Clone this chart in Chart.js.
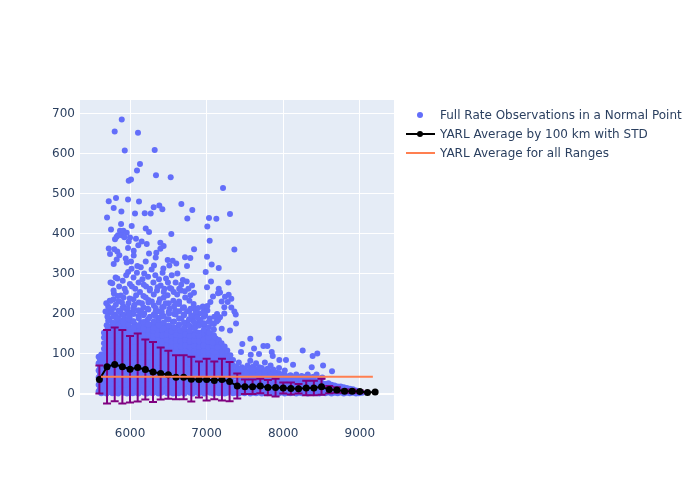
<!DOCTYPE html>
<html>
<head>
<meta charset="utf-8">
<title>YARL by range</title>
<script src="https://cdn.jsdelivr.net/npm/chart.js@4/dist/chart.umd.min.js"></script>
<style>
  body { margin: 0; background: #fff; }
  canvas { display: block; }
</style>
</head>
<body>
<canvas id="cntChart" width="700" height="500"></canvas>
<script>
// points read one by one from the upper part of the cloud
const sparseRanges = [5892,5800,6104,5931,6322,6130,6091,6339,6531,5983,6013,7214,5722,5817,5974,6117,6670,5787,5887,6309,6382,6422,6813,6065,6192,6270,5700,6748,7031,7127,7305,5883,6022,7009,5752,6205,6248,5869,5913,5957,5843,5892,5804,5926,5826,6539,6000,6078,6152,6108,6218,5983,5974,6396,6439,6396,7040,6836,7362,5722,5795,5834,5739,5860,6048,6048,6248,6343,6335,7005,6718,6787,5944,5826,5957,6013,5787,6492,6557,6604,7066,6744,6513,7158,6988,6095,6205,6313,6435,7057,7283,7005,7158,7175,7149,7083,7288,7240,7322,7275,7197,7049,7009,7231,7322,7362,7380,7231,7136,7175,7149,7384,7197,7305,7570,7941,7466,7619,7741,7793,8254,8445,8384,7850,7863,7449,7576,7684,7949,8036,8128,8372,8520,8637];
const sparseRates = [685,655,652,608,609,574,558,546,541,532,535,514,481,489,485,480,474,464,455,466,470,461,459,450,451,450,440,438,439,437,449,424,419,418,410,413,404,407,407,402,396,396,386,391,392,399,390,387,380,371,374,380,364,377,369,362,382,361,360,363,361,355,349,346,357,345,350,352,340,342,341,339,338,335,328,330,324,334,332,325,323,319,320,314,304,319,330,320,313,280,278,266,262,253,251,243,247,242,237,229,230,229,219,216,215,205,198,200,199,191,184,175,162,158,137,138,124,113,119,119,108,100,94,104,94,104,97,99,84,84,72,66,70,56];

// scattered part between the solid body and the sparse top
const midRanges = [5690,5722,5745,5768,5790,5812,5835,5858,5880,5905,5930,5950,5975,5998,6020,6045,6068,6090,6112,6140,6162,6185,6210,6235,6258,6282,6305,6330,6352,6378,6400,6425,6448,6470,6495,6520,6545,6570,6595,6618,6642,6668,6690,6715,6740,6762,6788,6810,6835,5705,5735,5760,5785,5815,5840,5865,5895,5920,5945,5970,5995,6025,6050,6080,6105,6130,6155,6180,6205,6230,6260,6285,6310,6335,6360,6390,6415,6440,6465,6490,6515,6540,6565,6590,6615,6640,6665,6690,6720,6745,6775,6800,6830,6860,6890,6920,6950,6980,7010,7040,7070,7100,7130,5680,5750,5825,5900,5985,6060,6150,6240,6330,6420,6510,6600,6700,6790,6880,6970];
const midRates = [226,212,278,276,250,290,288,268,245,282,262,296,304,274,312,290,262,302,278,316,286,300,268,292,258,310,278,296,258,286,270,302,262,288,278,264,296,254,278,300,262,272,284,256,280,262,246,270,252,192,232,204,258,222,244,206,228,196,254,214,238,268,218,246,208,254,226,272,240,212,262,230,248,214,266,236,204,254,226,246,212,262,232,208,248,224,258,214,240,206,232,196,224,204,214,184,218,196,208,188,176,192,180,205,232,188,214,196,222,204,228,194,216,200,224,198,212,190,200];

// solid body of the cloud, column by column
const bodyRanges = [5590,5625,5660,5695,5730,5770,5805,5845,5880,5920,5960,5995,6035,6070,6110,6145,6185,6220,6260,6295,6335,6370,6410,6445,6485,6520,6560,6595,6635,6670,6710,6745,6785,6820,6860,6895,6935,6970,7010,7045,7085,7120,7160,7195,7235,7270,7310,7345];
const bodyRates = [
  [6,22,40,58,76,92],
  [1,14,27,41,55,69,84,98],
  [3,17,30,44,58,71,85,99,112,126,140,152],
  [0,13,26,40,53,67,80,94,108,121,135,149,171],
  [4,18,31,45,59,72,86,100,113,127,141,155,168,187],
  [1,14,28,41,55,69,82,96,110,124,137,151,178],
  [3,17,30,44,58,72,85,99,113,127,140,154,168,197],
  [0,13,27,40,54,68,81,95,109,123,136,150,164,183],
  [5,18,32,45,59,73,87,100,114,128,142,155,169,176,201],
  [2,15,29,43,56,70,84,97,111,125,139,153,166,186],
  [0,14,27,41,55,68,82,96,110,123,137,151,165,175,209],
  [4,17,31,45,58,72,86,99,113,127,141,154,190],
  [1,15,28,42,56,70,83,97,111,124,138,152,166,180,203],
  [3,16,30,44,57,71,85,98,112,126,140,154,172],
  [0,13,27,41,54,68,82,96,109,123,137,151,164,194],
  [5,18,32,46,59,73,87,100,114,128,142,156,177],
  [2,16,29,43,57,70,84,98,112,125,139,153,167,200],
  [0,14,28,41,55,69,82,96,110,124,137,151,182],
  [3,17,30,44,58,71,85,99,113,126,140,154,168,192],
  [1,15,28,42,56,69,83,97,111,124,138,152,174],
  [4,18,31,45,59,72,86,100,114,127,141,155,169,205],
  [0,13,27,41,54,68,82,95,109,123,137,150,181],
  [2,16,29,43,57,70,84,98,111,125,139,153,166,193],
  [5,18,32,45,59,73,86,100,114,128,141,155,172],
  [1,14,28,42,55,69,83,96,110,124,138,151,186],
  [3,17,30,44,58,71,85,99,112,126,140,154,167],
  [0,14,27,41,55,68,82,96,109,123,137,151,179],
  [4,17,31,45,58,72,86,99,113,127,141,154,198],
  [1,15,29,42,56,70,83,97,111,124,138,152,170],
  [3,16,30,44,57,71,85,98,112,126,140,153,188],
  [0,14,28,41,55,69,82,96,110,123,137,151,165],
  [5,18,32,46,59,73,87,100,114,128,142,155,177],
  [2,15,29,43,56,70,84,97,111,125,139,152,168],
  [0,13,27,41,54,68,82,95,109,123,137,150,183],
  [4,17,31,45,58,72,86,99,113,127,141,154,168],
  [1,15,28,42,56,69,83,97,110,124,138,152,175],
  [3,17,30,44,58,71,85,99,112,126,140,153],
  [0,14,27,41,55,68,82,96,109,123,137,150,172],
  [5,18,32,45,59,73,86,100,114,127,141,155],
  [2,15,29,43,56,70,84,97,111,125,138,150],
  [0,13,27,41,54,68,81,95,109,122,136,146],
  [3,17,31,44,58,72,85,99,113,126,138],
  [1,15,28,42,56,69,83,97,110,124,134],
  [4,18,31,45,59,72,86,100,113,126],
  [0,14,27,41,55,68,82,96,109,118],
  [2,16,30,43,57,71,84,98,108],
  [5,18,32,46,59,73,86,96],
  [1,15,28,42,56,70,84]
];

// second pass over the body, closes the gaps between columns
const bodyFillRanges = [5607,5640,5700,5760,5820,5880,5940,6000,6060,6120,6180,6240,6300,6360,6420,6480,6540,6600,6660,6720,6780,6840,6900,6960,7020,7080,7140,7200,7260,7320];
const bodyFillRates = [
  [13,31,49,67,85],
  [9,24,37,50,63,77,91],
  [8,21,35,48,62,76,89,103,117,130,144,158],
  [11,24,38,51,65,79,92,106,120,134,147,161],
  [7,21,34,48,62,75,89,103,116,130,144,158,172],
  [10,24,37,51,65,78,92,106,120,133,147,161],
  [8,22,35,49,63,76,90,104,118,131,145,159,173],
  [11,25,38,52,66,79,93,107,120,134,148,162],
  [7,20,34,48,61,75,89,102,116,130,144,157,171],
  [10,23,37,51,64,78,92,105,119,133,147,160],
  [8,21,35,49,62,76,90,104,117,131,145,159,172],
  [11,24,38,52,65,79,93,106,120,134,148,161],
  [7,20,34,48,61,75,89,103,116,130,144,158,170],
  [10,23,37,51,64,78,92,105,119,133,147,160],
  [8,22,35,49,63,76,90,104,118,131,145,159,173],
  [11,24,38,52,65,79,93,107,120,134,148,160],
  [7,21,34,48,62,75,89,103,117,130,144,156],
  [10,23,37,51,64,78,92,106,119,133,147,160],
  [8,22,35,49,63,76,90,104,118,131,145,158],
  [11,25,38,52,66,79,93,107,120,134,148],
  [7,20,34,48,61,75,89,102,116,130,144,157],
  [10,23,37,51,64,78,92,105,119,133,146],
  [8,21,35,49,62,76,90,103,117,131,144],
  [11,24,38,52,65,79,93,106,120,134],
  [7,21,34,48,62,75,89,103,116,130,141],
  [10,24,37,51,65,78,92,106,119,128],
  [8,22,35,49,63,76,90,104,116],
  [11,25,38,52,66,79,93,104],
  [7,20,34,48,61,75,89],
  [10,23,37,51,64,76]
];

// band just above the solid body, patchy in the reference
const upperRanges = [5715,5785,5850,5915,5980,6045,6115,6175,6240,6310,6375,6440,6505,6575,6640,6705,6770,6840,6905,6965,7030,7095];
const upperRates = [
  [165,182,200,218],
  [163,176,193,214,236],
  [170,189,207,231],
  [161,178,197,218,240],
  [172,186,204,226],
  [165,181,199,212,236],
  [170,188,208,228],
  [162,179,196,216,244],
  [173,187,210,234],
  [164,180,198,220],
  [171,189,206,228],
  [163,178,194,217,240],
  [170,186,204,226],
  [165,180,199,218],
  [173,188,206,230],
  [163,178,196,216],
  [171,186,205],
  [164,178,194,212],
  [170,184,200],
  [160,176,192,208],
  [152,166,180],
  [146,160,174]
];

// tail to the right, low rates only
const tailRanges = [7385,7420,7460,7495,7535,7570,7610,7645,7685,7720,7760,7795,7835,7870,7910,7945,7985,8020,8060,8095,8135,8170,8210,8245,8285,8320,8360,8395,8435,8470,8510,8550,8590,8630,8670,8710,8750,8790,8830,8870,8910,8950,8990,9030];
const tailRates = [
  [2,15,28,42,55,68],
  [0,13,26,39,52,62,78],
  [3,16,29,42,55,66],
  [1,14,27,40,52,62],
  [4,17,30,43,56,70],
  [0,13,26,39,52,64,82],
  [2,15,28,41,54,68],
  [1,14,27,40,52,60,76],
  [3,16,29,42,55,66],
  [0,13,26,39,50,64],
  [2,15,28,41,54,78],
  [1,14,27,40,52,62],
  [3,16,29,42,55,70],
  [0,13,26,39,50,60],
  [2,15,28,41,52],
  [1,14,27,40,50,64],
  [3,16,29,42,48],
  [0,13,26,38,46,58],
  [2,15,28,40],
  [1,14,27,38,46],
  [3,16,29,41],
  [0,13,26,38,48],
  [2,15,28,39],
  [1,14,27,40],
  [3,16,29,42],
  [0,13,26,38,48],
  [2,15,28,40],
  [1,14,27,42],
  [3,16,29,48],
  [0,13,26,38],
  [2,14,26,40],
  [1,12,24],
  [3,14,26],
  [0,10,22],
  [2,12,20],
  [1,10,18],
  [3,12,18],
  [0,8,16],
  [2,10,14],
  [1,7,12],
  [2,8,11],
  [0,5,8],
  [1,4],
  [2]
];
const tailFillRanges = [7440,7520,7600,7680,7760,7840,7920,8000,8080,8160,8240,8320,8400,8480];
const tailFillRates = [
  [8,22,35,48,60],
  [9,23,36,49],
  [8,21,34,47,58],
  [9,22,35,48],
  [7,20,34,46,58],
  [9,22,35,47],
  [8,21,34,45],
  [9,22,33,42],
  [8,21,33,44],
  [7,20,33],
  [9,22,34,44],
  [8,20,33],
  [7,21,34],
  [8,20,32]
];

// averages by 100 km and their std
const binRanges = [5600,5700,5800,5900,6000,6100,6200,6300,6400,6500,6600,6700,6800,6900,7000,7100,7200,7300,7400,7500,7600,7700,7800,7900,8000,8100,8200,8300,8400,8500,8600,8700,8800,8900,9000,9100,9200];
const binMeans = [35,67,73,67,61,65,60,54,50,47,41,41,36,35,35,33,35,30,19,17,17,19,15,15,14,13,12,14,14,17,10,9,6,6,5,3,4];
const binStds = [35,92,92,92,83,85,75,75,65,60,55,55,56,45,52,47,52,49,31,18,18,18,19,22,14,15,12,18,18,20,9,7,4,4,3,0,0];

const allRangesX = [5620,9170];
const allRangesAvg = [42,42];

const xTicks = [6000,7000,8000,9000];
const yTicks = [0,100,200,300,400,500,600,700];

const legendLabels = ['Full Rate Observations in a Normal Point','YARL Average by 100 km with STD','YARL Average for all Ranges'];

const colDots = '#636EFA', colMean = '#000000', colStd = '#800080', colAvg = '#FF7F50', colText = '#2a3f5f';
const fontPlot = '12px "DejaVu Sans"';

function buildCloud(){
  const pts = [];
  const addColumns = (xs, rows) => xs.forEach((x, i) => rows[i].forEach(y => pts.push({x: x, y: y})));
  addColumns(bodyRanges, bodyRates);
  addColumns(bodyFillRanges, bodyFillRates);
  addColumns(upperRanges, upperRates);
  addColumns(tailRanges, tailRates);
  addColumns(tailFillRanges, tailFillRates);
  midRanges.forEach((x, i) => pts.push({x: x, y: midRates[i]}));
  sparseRanges.forEach((x, i) => pts.push({x: x, y: sparseRates[i]}));
  return pts;
}

const plotBackground = {
  id: 'plotBackground',
  beforeDraw(chart){
    const a = chart.chartArea, c = chart.ctx;
    c.save();
    c.fillStyle = '#E5ECF6';
    c.fillRect(a.left, a.top, a.right - a.left, a.bottom - a.top);
    c.restore();
  }
};

// std bars go right under the black line
const stdBars = {
  id: 'stdBars',
  beforeDatasetDraw(chart, args){
    if (args.index !== 1) return;
    const c = chart.ctx, sx = chart.scales.x, sy = chart.scales.y;
    c.save();
    c.strokeStyle = colStd;
    c.lineWidth = 2;
    binRanges.forEach((r, i) => {
      if (!binStds[i]) return;
      const px = sx.getPixelForValue(r);
      const top = sy.getPixelForValue(binMeans[i] + binStds[i]);
      const bot = sy.getPixelForValue(binMeans[i] - binStds[i]);
      c.beginPath();
      c.moveTo(px, top); c.lineTo(px, bot);
      c.moveTo(px - 4, top); c.lineTo(px + 4, top);
      c.moveTo(px - 4, bot); c.lineTo(px + 4, bot);
      c.stroke();
    });
    c.restore();
  }
};

const sideLegend = {
  id: 'sideLegend',
  afterDraw(chart){
    const c = chart.ctx;
    c.save();
    c.font = fontPlot;
    c.textBaseline = 'middle';
    c.fillStyle = colText;
    legendLabels.forEach((t, i) => c.fillText(t, 440, 116 + i * 19));
    c.fillStyle = colDots;
    c.beginPath(); c.arc(420, 115, 3, 0, Math.PI * 2); c.fill();
    c.strokeStyle = colMean; c.lineWidth = 2;
    c.beginPath(); c.moveTo(406, 134); c.lineTo(435, 134); c.stroke();
    c.fillStyle = colMean;
    c.beginPath(); c.arc(420, 134, 3, 0, Math.PI * 2); c.fill();
    c.strokeStyle = colAvg;
    c.beginPath(); c.moveTo(406, 153); c.lineTo(435, 153); c.stroke();
    c.restore();
  }
};

new Chart(document.getElementById('cntChart').getContext('2d'), {
  type: 'scatter',
  data: {
    datasets: [
      { label: legendLabels[0], data: buildCloud(), pointBackgroundColor: colDots, pointBorderColor: colDots, pointBorderWidth: 0, pointRadius: 3, order: 3 },
      { label: legendLabels[1], data: binRanges.map((x, i) => ({x: x, y: binMeans[i]})), showLine: true, borderColor: colMean, borderWidth: 2, pointBackgroundColor: colMean, pointBorderColor: colMean, pointRadius: 3.5, pointBorderWidth: 0, order: 2 },
      { label: legendLabels[2], data: allRangesX.map((x, i) => ({x: x, y: allRangesAvg[i]})), showLine: true, borderColor: colAvg, borderWidth: 2, pointRadius: 0, order: 1 }
    ]
  },
  options: {
    responsive: false,
    animation: false,
    layout: { padding: { top: 100, right: 306, left: 0, bottom: 0 } },
    plugins: { legend: { display: false }, tooltip: { enabled: false } },
    scales: {
      x: {
        type: 'linear', min: 5347, max: 9446,
        afterFit(s){ s.height = 80; },
        afterBuildTicks(s){ s.ticks = xTicks.map(v => ({value: v})); },
        ticks: { color: colText, font: { family: 'DejaVu Sans', size: 12 }, maxRotation: 0, padding: 7, callback: v => String(v) },
        grid: { color: '#fff', lineWidth: 1, drawTicks: false },
        border: { display: false }
      },
      y: {
        type: 'linear', min: -66, max: 734,
        afterFit(s){ s.width = 80; },
        afterBuildTicks(s){ s.ticks = yTicks.map(v => ({value: v})); },
        ticks: { color: colText, font: { family: 'DejaVu Sans', size: 12 }, padding: 5, callback: v => String(v) },
        grid: { color: '#fff', lineWidth: c => c.tick && c.tick.value === 0 ? 2 : 1, drawTicks: false },
        border: { display: false }
      }
    }
  },
  plugins: [plotBackground, stdBars, sideLegend]
});
</script>
</body>
</html>
